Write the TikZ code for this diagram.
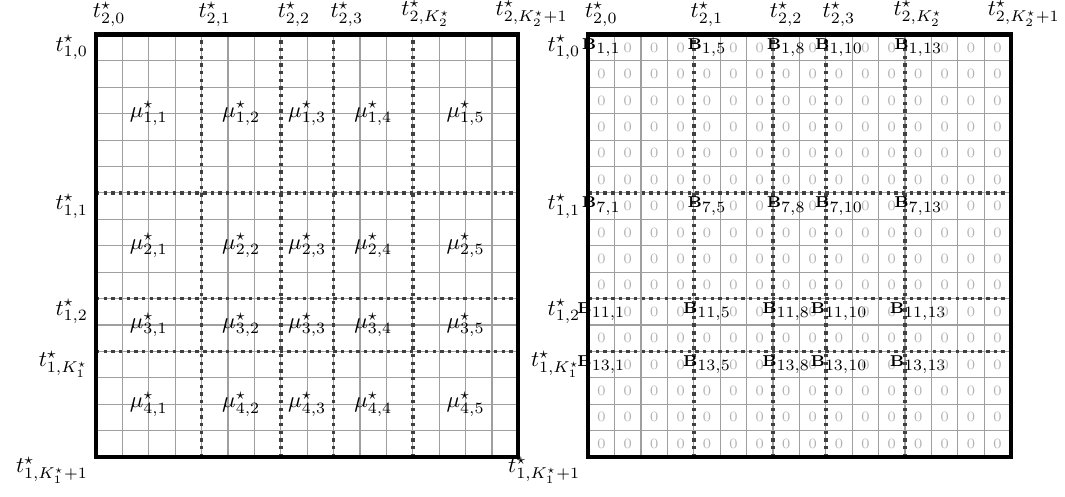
\documentclass[tikz,border=0pt]{standalone}
\usepackage{amsmath,amssymb}
\usepackage{xcolor}
\usetikzlibrary{positioning}

\begin{document}
\begin{tikzpicture}[
      x=11.73pt, y=11.73pt,
      cellgrid/.style={draw=gray!75, line width=0.5pt},
      split/.style={draw=black!75, line width=1.6pt, dash pattern=on 1.5pt off 1.9pt},
      frame/.style={draw=black, line width=1.8pt},
      zero/.style={text=gray!60, font=\fontsize{6.3}{7}\selectfont, inner sep=0pt},
      blk/.style={font=\fontsize{6.6}{7}\selectfont, inner sep=0pt}]
    \useasboundingbox (-3.636,-1.481) rectangle (36.70,17.307);
    % both panels: cells, block borders, frame and knot labels
    \foreach \ox/\p in {0/L, 18.64/R} {
      \foreach \k in {1,...,15} {
        \draw[cellgrid] (\ox+\k,0) -- (\ox+\k,16);
        \draw[cellgrid] (\ox,\k) -- (\ox+16,\k);
      }
      \foreach \k in {4,7,9,12} \draw[split] (\ox+\k,0) -- (\ox+\k,16);
      \foreach \k in {10,6,4} \draw[split] (\ox,\k) -- (\ox+16,\k);
      \draw[frame] (\ox,0) rectangle (\ox+16,16);
      \foreach \c/\lab [count=\i] in {0.5/{2,0}, 4.5/{2,1}, 7.5/{2,2}, 9.5/{2,3},
          12.5/{2,K^\star_2}, 16.5/{2,K^\star_2+1}}
        \node[above] (\p-top\i) at (\ox+\c,16) {$t^\star_{\lab}$};
      \foreach \r/\lab [count=\i] in {15.5/{1,0}, 9.5/{1,1}, 5.5/{1,2},
          3.5/{1,K^\star_1}, -0.5/{1,K^\star_1+1}}
        \node[left] (\p-side\i) at (\ox,\r) {$t^\star_{\lab}$};
    }
    % left panel: block means
    \foreach \r/\yy in {1/13, 2/8, 3/5, 4/2}
      \foreach \c/\xx in {1/2, 2/5.5, 3/8, 4/10.5, 5/14}
        \node (mu\r\c) at (\xx,\yy) {$\mu^\star_{\r,\c}$};
    % right panel: block matrices and zeros
    \foreach \r in {1,...,16}
      \foreach \c in {1,...,16} {
        \pgfmathtruncatemacro\rb{(\r==1)||(\r==7)||(\r==11)||(\r==13)}
        \pgfmathtruncatemacro\cb{(\c==1)||(\c==5)||(\c==8)||(\c==10)||(\c==13)}
        \ifnum\rb\cb=11
          \node[blk] (B-\r-\c) at (18.64+\c-0.5,16.5-\r) {$\mathbf{B}_{\textstyle\r{,}\c}$};
        \else
          \node[zero] (z-\r-\c) at (18.64+\c-0.5,16.5-\r) {0};
        \fi
      }
  \end{tikzpicture}
\end{document}
